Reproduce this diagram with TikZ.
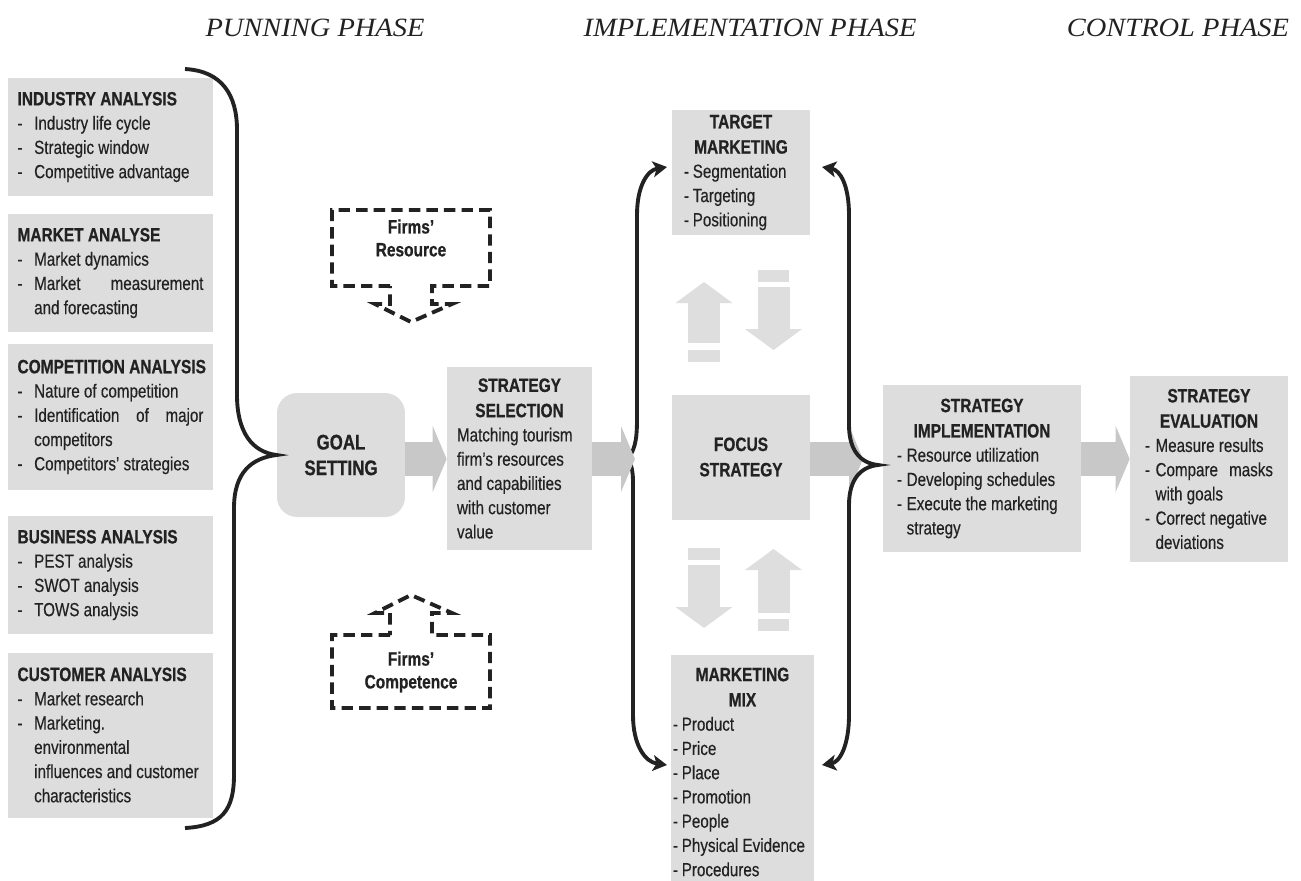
\documentclass[tikz,border=0pt]{standalone}
\usepackage{fontspec}
\setmainfont{Liberation Sans}[FakeStretch=0.8,UprightFeatures={FakeBold=0.35},BoldFeatures={FakeBold=0.7}]
\newfontfamily\phasefont{Liberation Serif}[FakeStretch=1.08]
\usepackage{tikz}
\usetikzlibrary{arrows.meta}
\definecolor{ink}{HTML}{222222}
\definecolor{boxgray}{HTML}{DDDDDD}
\definecolor{flowgray}{HTML}{C8C8C8}
\definecolor{softgray}{HTML}{DEDEDE}
\newcommand{\bodyfont}{\fontsize{10.8}{13.8}\selectfont}
\newcommand{\headfont}{\fontsize{11}{14.4}\selectfont\bfseries}
\newcommand{\heading}[1]{\noindent\mbox{\headfont #1}\par}
\newcommand{\cheading}[1]{{\centering\headfont #1\par}}
\newcommand{\itm}[2][9.5pt]{\noindent\hangindent=#1\hangafter=1\makebox[#1][l]{-}#2\par}
\hyphenpenalty=10000
\tikzset{
  panel/.style={rectangle,fill=boxgray,text=ink,inner sep=0pt,font=\bodyfont,align=justify},
  goalbox/.style={rectangle,rounded corners=0.4cm,fill=boxgray,text=ink,minimum width=2.56cm,
    minimum height=2.48cm,align=center,font=\fontsize{12}{14.6}\selectfont\bfseries},
  phase/.style={text=ink,font=\phasefont\itshape\fontsize{15}{18}\selectfont},
  dashbox/.style={draw=ink,line width=2.2pt,dash pattern=on 6.5pt off 3.5pt},
  dashlabel/.style={text=ink,align=center,font=\fontsize{11}{13}\selectfont\bfseries},
  brace/.style={draw=ink,line width=2.2pt},
  bracearrow/.style={brace,{Stealth[length=8pt,width=9pt,inset=2pt]}-{Stealth[length=8pt,width=9pt,inset=2pt]}},
  fatarrow/.style={draw=flowgray,line width=0.68cm,-{Triangle[length=0.28cm,width=1.32cm,line width=0pt]}},
  updown/.style={draw=softgray,line width=0.64cm,-{Triangle[length=0.42cm,width=1.14cm,line width=0pt]}}
}
\begin{document}
\begin{tikzpicture}[x=0.02cm,y=-0.02cm]
\useasboundingbox (0,0) rectangle (1301,880);
\node[phase] (plan) at (315,28) {PUNNING PHASE};
\node[phase] (impl) at (750,28) {IMPLEMENTATION PHASE};
\node[phase] (ctrl) at (1178,28) {CONTROL PHASE};

\node[panel,text width=3.72cm,minimum width=4.1cm,minimum height=2.36cm] (industry) at (110.5,137)
  {\heading{INDUSTRY ANALYSIS}\itm{Industry life cycle}\itm{Strategic window}\itm{Competitive advantage}};
\node[panel,text width=3.72cm,minimum width=4.1cm,minimum height=2.36cm] (market) at (110.5,273)
  {\heading{MARKET ANALYSE}\itm{Market dynamics}\itm{Market measurement\linebreak and forecasting}};
\node[panel,text width=3.72cm,minimum width=4.1cm,minimum height=2.92cm] (competition) at (110.5,417)
  {\heading{COMPETITION ANALYSIS}\itm{Nature of competition}\itm{Identification of major\linebreak competitors}\itm{Competitors' strategies}};
\node[panel,text width=3.72cm,minimum width=4.1cm,minimum height=2.36cm] (business) at (110.5,575)
  {\heading{BUSINESS ANALYSIS}\itm{PEST analysis}\itm{SWOT analysis}\itm{TOWS analysis}};
\node[panel,text width=3.72cm,minimum width=4.1cm,minimum height=3.3cm] (customer) at (110.5,735)
  {\heading{CUSTOMER ANALYSIS}\itm{Market research}\itm{Marketing.\\ environmental\\ influences and customer\\ characteristics}};

\node[goalbox] (goal) at (341,455) {GOAL\\SETTING};
\node[panel,text width=2.5cm,minimum width=2.9cm,minimum height=3.66cm] (selection) at (519.5,458.5)
  {\cheading{STRATEGY\\SELECTION}\noindent Matching tourism\\ firm's resources\\ and capabilities\\ with customer\\ value\par};

\node[dashlabel] (resource) at (411,238) {Firms’\\Resource};
\node[dashlabel] (competence) at (411,672) {Firms’\\Competence};
\draw[dashbox] (390,286) -- (332,286) -- (332,210) -- (490,210) -- (490,286) -- (432,286) -- (432,304)
  -- (452,304) -- (411,322) -- (375,304) -- (390,304) -- cycle;
\draw[dashbox] (390,635) -- (332,635) -- (332,708) -- (490,708) -- (490,635) -- (432,635) -- (432,613)
  -- (452,613) -- (411,595) -- (375,613) -- (390,613) -- cycle;

\node[panel,text width=2.28cm,minimum width=2.76cm,minimum height=2.5cm] (target) at (741,172.5)
  {\cheading{TARGET\\MARKETING}\itm[5pt]{Segmentation}\itm[5pt]{Targeting}\itm[5pt]{Positioning}};
\node[panel,text width=2.28cm,minimum width=2.76cm,minimum height=2.5cm] (focus) at (741,457)
  {\cheading{FOCUS\\STRATEGY}};
\node[panel,text width=2.78cm,minimum width=2.86cm,minimum height=4.68cm] (mix) at (742.5,772)
  {\cheading{MARKETING\\MIX}\itm[5pt]{Product}\itm[5pt]{Price}\itm[5pt]{Place}\itm[5pt]{Promotion}
   \itm[5pt]{People}\itm[5pt]{Physical Evidence}\itm[5pt]{Procedures}};
\node[panel,text width=3.4cm,minimum width=3.96cm,minimum height=3.34cm] (execution) at (982,468.5)
  {\cheading{STRATEGY\\IMPLEMENTATION}\itm[5.5pt]{Resource utilization}\itm[5.5pt]{Developing schedules}
   \itm[5.5pt]{Execute the marketing\\ strategy}};
\node[panel,text width=2.56cm,minimum width=3.16cm,minimum height=3.72cm] (evaluation) at (1209,469)
  {\cheading{STRATEGY\\EVALUATION}\itm[6pt]{Measure results}\itm[6pt]{Compare masks\linebreak with goals}
   \itm[6pt]{Correct negative\\ deviations}};

\coordinate (axis) at (0,459);
\coordinate (jL) at (635,459);
\coordinate (jR) at (863,459);
\coordinate (pbtop) at (185,69);
\coordinate (pbbot) at (185,828);
\coordinate (tl) at (667,167);
\coordinate (tr) at (822,167);
\coordinate (ml) at (667,765);
\coordinate (mr) at (822,765);

\draw[brace] (pbtop) .. controls (222,71) and (237,95) .. (237,130) -- (237,395)
  .. controls (237,432) and (252,452) .. (goal.west) .. controls (252,458) and (234,472) .. (234,508)
  -- (234,775) .. controls (234,810) and (222,826) .. (pbbot);
\draw[bracearrow] (tl) .. controls (648,170) and (637,185) .. (637,215) -- (637,420)
  .. controls (637,442) and (634,452) .. (627,459) .. controls (634,466) and (633,478) .. (633,500)
  -- (633,715) .. controls (633,745) and (645,762) .. (ml);

\draw[fatarrow] (goal.east |- axis) -- (selection.west |- axis);
\draw[fatarrow] (selection.east |- axis) -- (jL);
\draw[fatarrow] (focus.east |- axis) -- (jR);
\draw[fatarrow] (execution.east |- axis) -- (evaluation.west |- axis);

\draw[bracearrow] (tr) .. controls (840,170) and (849,185) .. (849,215) -- (849,425)
  .. controls (849,450) and (860,463) .. (878,465) .. controls (860,467) and (849,480) .. (849,505)
  -- (849,715) .. controls (849,745) and (840,762) .. (mr);

\coordinate (ua) at (704,343); \coordinate (ub) at (704,282);
\coordinate (da) at (773.5,287); \coordinate (db) at (773.5,350);
\coordinate (dc) at (704,565); \coordinate (dd) at (704,628);
\coordinate (uc) at (773.5,613); \coordinate (ud) at (773.5,549);
\draw[updown] (ua) -- (ub);
\draw[updown] (da) -- (db);
\draw[updown] (dc) -- (dd);
\draw[updown] (uc) -- (ud);
\fill[softgray] (688,350) rectangle (720,362);
\fill[softgray] (758,270) rectangle (789,282);
\fill[softgray] (688,548) rectangle (720,560);
\fill[softgray] (758,619) rectangle (789,631);
\end{tikzpicture}
\end{document}
